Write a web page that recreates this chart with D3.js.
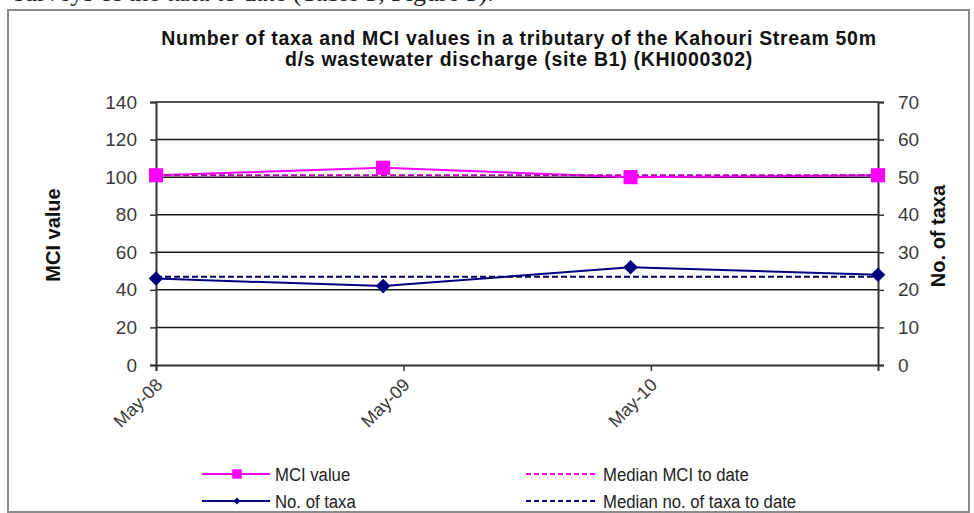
<!DOCTYPE html>
<html>
<head>
<meta charset="utf-8">
<script src="https://cdn.jsdelivr.net/npm/d3@7"></script>
<style>
  body { margin: 0; background: #fff; }
  svg { display: block; }
</style>
</head>
<body>
<div id="chart"></div>
<script>
const width = 974;
const height = 513;

// Donnees
const sampleDates = ["2008-05-01", "2009-04-01", "2010-04-01", "2011-04-01"];
const mciValues = [101, 105, 100, 101];
const taxaValues = [23, 21, 26, 24];
const medianMci = [101, 101, 101, 101];
const medianTaxa = [23.5, 23.5, 23.5, 23.5];
const xTickDates = ["2008-05-01", "2009-05-01", "2010-05-01"];
const leftTicks = [0, 20, 40, 60, 80, 100, 120, 140];
const rightTicks = [0, 10, 20, 30, 40, 50, 60, 70];
const titleLines = [
  "Number of taxa and MCI values in a tributary of the Kahouri Stream 50m",
  "d/s wastewater discharge  (site B1) (KHI000302)"
];
const legendItems = [
  {label: "MCI value", color: "#ff00ff", dash: null, marker: "square", col: 0, row: 0},
  {label: "No. of taxa", color: "#000080", dash: null, marker: "diamond", col: 0, row: 1},
  {label: "Median MCI to date", color: "#ee00ee", dash: "5,3", marker: null, col: 1, row: 0},
  {label: "Median no. of taxa to date", color: "#000080", dash: "5,3", marker: null, col: 1, row: 1}
];

const parse = d3.timeParse("%Y-%m-%d");
const dates = sampleDates.map(parse);

const margin = {left: 156, right: 974 - 878, top: 102, bottom: 513 - 365};

const x = d3.scaleTime()
  .domain(d3.extent(dates))
  .range([margin.left, width - margin.right]);
const yL = d3.scaleLinear().domain([0, 140]).range([height - margin.bottom, margin.top]);
const yR = d3.scaleLinear().domain([0, 70]).range([height - margin.bottom, margin.top]);

const svg = d3.select("#chart").append("svg")
  .attr("width", width)
  .attr("height", height)
  .style("font-family", "'Liberation Sans', Arial, sans-serif");

// texte du document, coupe en haut comme dans la page d'origine
svg.append("text")
  .attr("x", 14).attr("y", 1)
  .style("font-family", "'Liberation Serif', 'Times New Roman', serif")
  .style("font-size", "26px")
  .attr("fill", "#222")
  .text("surveys of the taxa to date (Table 3, Figure 3).");

// cadre
svg.append("rect")
  .attr("x", 8).attr("y", 10)
  .attr("width", 961).attr("height", 502)
  .attr("fill", "#fff")
  .attr("stroke", "#8a8a8a")
  .attr("stroke-width", 2);

// titre
svg.append("g").selectAll("text")
  .data(titleLines)
  .join("text")
  .attr("x", 519)
  .attr("y", (d, i) => 45 + i * 21)
  .attr("text-anchor", "middle")
  .style("font-size", "19.5px")
  .style("font-weight", "bold")
  .style("letter-spacing", "0.7px")
  .attr("fill", "#111")
  .text(d => d);

// grille
svg.append("g")
  .selectAll("line")
  .data(leftTicks.slice(1))
  .join("line")
  .attr("x1", margin.left).attr("x2", width - margin.right)
  .attr("y1", d => yL(d)).attr("y2", d => yL(d))
  .attr("stroke", "#1a1a1a")
  .attr("stroke-width", 1.5);

// axes
const axisLeft = svg.append("g")
  .attr("transform", `translate(${margin.left},0)`)
  .call(d3.axisLeft(yL).tickValues(leftTicks).tickSize(6).tickPadding(13));

const axisRight = svg.append("g")
  .attr("transform", `translate(${width - margin.right},0)`)
  .call(d3.axisRight(yR).tickValues(rightTicks).tickSize(6).tickPadding(14));

const axisBottom = svg.append("g")
  .attr("transform", `translate(0,${height - margin.bottom})`)
  .call(d3.axisBottom(x).tickValues(xTickDates.map(parse)).tickFormat(d3.timeFormat("%b-%y")).tickSize(6));

[axisLeft, axisRight, axisBottom].forEach(a => {
  a.select(".domain").attr("stroke", "#333").attr("stroke-width", 2);
  a.selectAll(".tick line").attr("stroke", "#333").attr("stroke-width", 1.5);
  a.selectAll(".tick text")
    .attr("fill", "#3a3a3a")
    .style("font-size", "19px")
    .style("font-family", "'Liberation Sans', Arial, sans-serif");
});

axisBottom.selectAll(".tick text")
  .attr("text-anchor", "end")
  .attr("dy", null)
  .attr("y", 0)
  .attr("transform", "translate(7,21) rotate(-45)")
  .style("font-size", "18px");

// titres des axes
svg.append("text")
  .attr("transform", `translate(60,235) rotate(-90)`)
  .attr("text-anchor", "middle")
  .style("font-size", "20px")
  .style("font-weight", "bold")
  .attr("fill", "#111")
  .text("MCI value");

svg.append("text")
  .attr("transform", `translate(945,236) rotate(-90)`)
  .attr("text-anchor", "middle")
  .style("font-size", "20px")
  .style("font-weight", "bold")
  .attr("fill", "#111")
  .text("No. of taxa");

// series
const lineL = d3.line().x((d, i) => x(dates[i])).y(d => yL(d));
const lineR = d3.line().x((d, i) => x(dates[i])).y(d => yR(d));

svg.append("path")
  .attr("d", lineL(mciValues))
  .attr("fill", "none").attr("stroke", "#ff00ff").attr("stroke-width", 2);

svg.append("path")
  .attr("d", lineL(medianMci))
  .attr("fill", "none").attr("stroke", "#b000b0").attr("stroke-width", 2)
  .attr("stroke-dasharray", "6,3");

svg.append("path")
  .attr("d", lineR(taxaValues))
  .attr("fill", "none").attr("stroke", "#000080").attr("stroke-width", 2);

svg.append("path")
  .attr("d", lineR(medianTaxa))
  .attr("fill", "none").attr("stroke", "#000060").attr("stroke-width", 2)
  .attr("stroke-dasharray", "6,3");

const diamondType = d3.symbolDiamond2 || d3.symbolDiamond;
const sq = d3.symbol().type(d3.symbolSquare).size(200);
const dm = d3.symbol().type(diamondType).size(135);

svg.append("g").selectAll("path")
  .data(mciValues)
  .join("path")
  .attr("d", sq)
  .attr("transform", (d, i) => `translate(${x(dates[i])},${yL(d)})`)
  .attr("fill", "#ff00ff");

svg.append("g").selectAll("path")
  .data(taxaValues)
  .join("path")
  .attr("d", dm)
  .attr("transform", (d, i) => `translate(${x(dates[i])},${yR(d)})`)
  .attr("fill", "#000080");

// legende
const legCols = [202, 526];
const legRows = [474, 501];
const leg = svg.append("g").selectAll("g")
  .data(legendItems)
  .join("g")
  .attr("transform", d => `translate(${legCols[d.col]},${legRows[d.row]})`);

leg.append("line")
  .attr("x1", 0).attr("x2", d => d.dash ? 71 : 68)
  .attr("y1", 0).attr("y2", 0)
  .attr("stroke", d => d.color)
  .attr("stroke-width", 2)
  .attr("stroke-dasharray", d => d.dash);

leg.filter(d => d.marker)
  .append("path")
  .attr("d", d => d.marker === "square"
    ? d3.symbol().type(d3.symbolSquare).size(90)()
    : d3.symbol().type(diamondType).size(30)())
  .attr("transform", "translate(35,0)")
  .attr("fill", d => d.color);

leg.append("text")
  .attr("transform", d => `translate(${d.dash ? 77 : 73},0) scale(0.88,1)`)
  .attr("dy", "0.35em")
  .style("font-size", "19px")
  .attr("fill", "#222")
  .text(d => d.label);
</script>
</body>
</html>
